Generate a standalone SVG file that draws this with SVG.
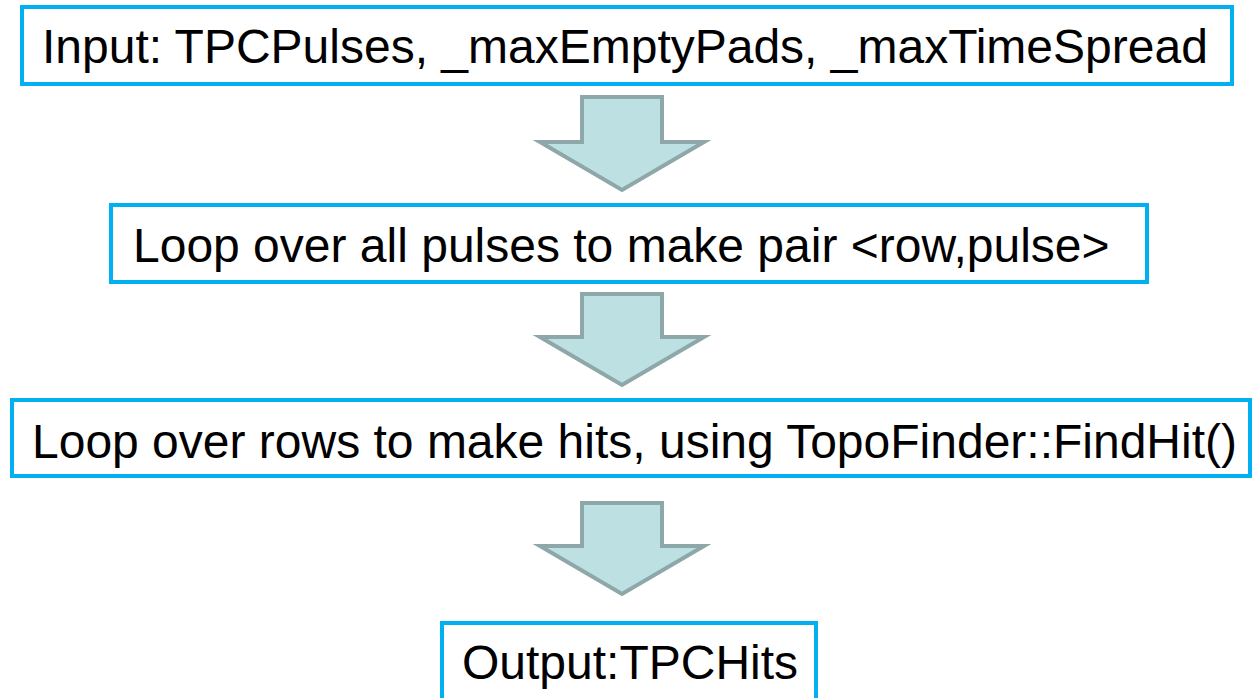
<svg xmlns="http://www.w3.org/2000/svg" width="1254" height="698" viewBox="0 0 1254 698">
<style>
.box{fill:#fff;stroke:#00b0f0;stroke-width:4}
.t{font-family:"Liberation Sans",Arial,sans-serif;font-size:48px;fill:#000}
.arr{fill:#bde0e3;stroke:#8ea7a8;stroke-width:4;stroke-linejoin:miter}
</style>
<rect width="1254" height="698" fill="#fff"/>
<g id="connectors">
<path class="arr" d="M582,97 H662 V142 H704 L622,190 L540,142 H582 Z"/>
<path class="arr" d="M582,294 H662 V337 H704 L622,385 L540,337 H582 Z"/>
<path class="arr" d="M582,503 H662 V546 H704 L622,594 L540,546 H582 Z"/>
</g>
<g id="n1"><rect class="box" x="22" y="7" width="1210" height="77"/><text class="t" x="42" y="63">Input: TPCPulses, _maxEmptyPads, _maxTimeSpread</text></g>
<g id="n2"><rect class="box" x="111" y="205" width="1036" height="77"/><text class="t" x="133" y="262">Loop over all pulses to make pair &lt;row,pulse&gt;</text></g>
<g id="n3"><rect class="box" x="12" y="400" width="1238" height="76"/><text class="t" x="32" y="458">Loop over rows to make hits, using TopoFinder::FindHit()</text></g>
<g id="n4"><rect class="box" x="442" y="623" width="374" height="90"/><text class="t" x="462" y="679">Output:TPCHits</text></g>
</svg>
